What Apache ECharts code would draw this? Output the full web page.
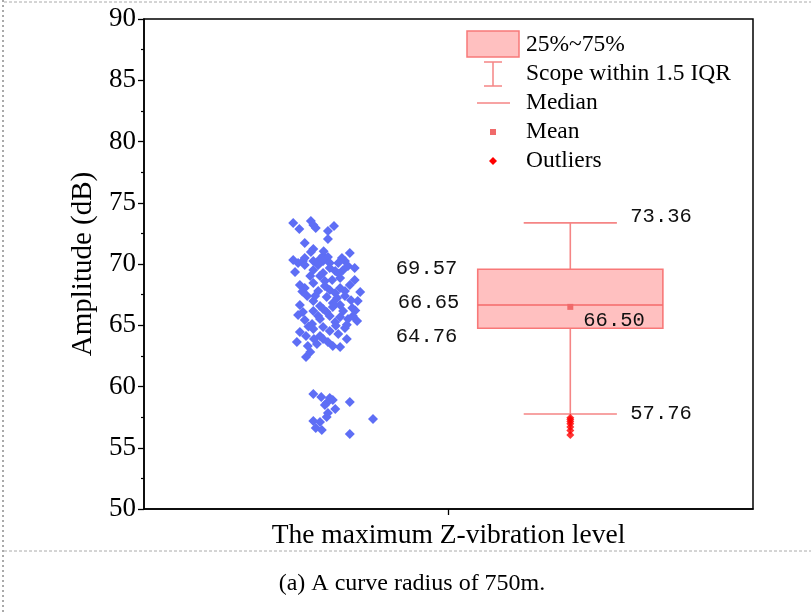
<!DOCTYPE html>
<html><head><meta charset="utf-8">
<script src="https://cdn.jsdelivr.net/npm/echarts@6/dist/echarts.min.js"></script>
<style>html,body{margin:0;padding:0;background:#fff}#c{width:811px;height:612px}</style>
</head><body><div id="c"></div>
<script>
// ---- data ----
const yMin = 50, yMax = 90, yStep = 5;
const xName = 'The maximum Z-vibration level';
const yName = 'Amplitude (dB)';
const caption = '(a) A curve radius of 750m.';
// box statistics: lower whisker, Q1, median, Q3, upper whisker
const boxStats = [57.76, 64.76, 66.65, 69.57, 73.36];
const boxMean = 66.50;
const boxPos = 7.0;
const outliers = [57.45, 57.3, 57.15, 56.95, 56.7, 56.4, 56.05];
const legendNames = ['25%~75%', 'Scope within 1.5 IQR', 'Median', 'Mean', 'Outliers'];
// raw samples (jitter position, amplitude dB)
const scatterPoints = [
 [2.45,73.35],[2.55,72.86],[2.74,73.51],[2.78,73.18],[2.82,72.94],[3.02,72.69],[3.12,73.10],[3.02,72.04],
 [2.64,71.71],[2.78,71.22],[2.74,70.98],[2.94,70.65],[2.89,70.41],[3.02,70.57],[3.25,70.49],[3.38,70.90],
 [2.45,70.33],[2.64,70.49],[2.53,70.08],[2.61,70.24],[2.78,70.24],[2.94,70.24],[3.05,70.08],[3.19,70.08],
 [3.30,70.24],[3.46,69.67],[3.27,69.51],[3.14,69.43],[2.94,69.27],[2.78,69.51],[2.64,69.92],[2.89,69.02],
 [3.09,68.69],[3.38,68.29],[2.78,68.45],[2.97,68.20],[3.22,68.04],[2.86,67.80],[3.14,67.63],[2.68,67.39],
 [3.00,67.31],[3.30,67.39],[3.51,66.98],[2.78,66.98],[3.10,66.82],[2.89,66.57],[3.22,66.65],[2.61,66.08],
 [2.78,66.16],[2.94,66.33],[3.10,66.49],[3.27,66.16],[3.43,65.76],[3.50,65.35],[3.35,65.51],[3.22,65.67],
 [3.05,65.76],[2.89,65.51],[2.76,65.10],[2.78,64.69],[2.94,64.86],[3.05,64.53],[3.19,64.29],[2.56,64.45],
 [2.51,63.63],[2.69,63.31],[2.84,63.47],[2.94,63.88],[3.10,63.31],[3.33,63.88],[2.89,64.12],[2.66,62.41],
 [2.86,69.92],[3.05,69.67],[3.35,69.84],[2.73,69.02],[3.22,68.86],[2.97,68.61],[2.64,68.04],[3.30,67.80],
 [3.05,67.88],[2.81,67.39],[3.17,67.22],[2.56,66.65],[3.00,66.08],[2.86,65.76],[3.14,65.27],[2.64,65.43],
 [3.30,64.78],[2.66,64.12],[3.02,63.63],[3.22,63.22],[2.79,63.88],[2.53,65.84],[3.42,66.41],[2.48,69.35],
 [3.46,68.69],[2.56,68.29],[3.55,67.71],[2.73,62.82],[3.40,67.05],[3.47,66.20],[3.15,64.95],[2.70,64.90],
 [3.20,69.20],[2.95,71.05],[3.33,65.05],[2.60,67.75],
 [2.78,59.39],[2.91,59.14],[3.05,59.06],[3.10,58.90],[3.00,58.65],[2.97,58.49],[3.14,58.16],[3.02,57.84],
 [3.00,57.51],[3.38,58.73],[2.78,57.18],[2.89,57.10],[2.82,56.61],[2.92,56.45],[3.76,57.35],[3.38,56.12]
];

// ---- styles ----
const serif = '"Liberation Serif", "Times New Roman", serif';
const mono = '"Liberation Mono", monospace';
const boxFill = '#ffc0c0', boxLine = '#f87878', whiskerColor = '#f58585';
const fmt = v => v.toFixed(2);

const chart = echarts.init(document.getElementById('c'), null, {renderer: 'canvas'});

function txt(text, x, y, align) {
  return {type: 'text', style: {text, x, y, fill: '#111', font: '20.5px ' + mono,
    align, verticalAlign: 'middle', textAlign: align, textVerticalAlign: 'middle'}};
}

function renderBox(params, api) {
  const x = api.value(0);
  const c = i => api.coord([x, api.value(i)]);
  const pLow = c(1), pQ1 = c(2), pMed = c(3), pQ3 = c(4), pHigh = c(5), pMean = c(6);
  const boxHalf = api.size([1.52, 0])[0];
  const capHalf = api.size([0.765, 0])[0];
  const cx = pMed[0];
  const ls = {stroke: whiskerColor, lineWidth: 1.6};
  return {type: 'group', children: [
    {type: 'line', shape: {x1: cx, y1: pLow[1], x2: cx, y2: pQ1[1]}, style: ls},
    {type: 'line', shape: {x1: cx, y1: pQ3[1], x2: cx, y2: pHigh[1]}, style: ls},
    {type: 'line', shape: {x1: cx - capHalf, y1: pLow[1], x2: cx + capHalf, y2: pLow[1]}, style: ls},
    {type: 'line', shape: {x1: cx - capHalf, y1: pHigh[1], x2: cx + capHalf, y2: pHigh[1]}, style: ls},
    {type: 'rect', shape: {x: cx - boxHalf, y: pQ3[1], width: boxHalf * 2, height: pQ1[1] - pQ3[1]},
      style: {fill: boxFill, stroke: boxLine, lineWidth: 1.6}},
    {type: 'line', shape: {x1: cx - boxHalf, y1: pMed[1], x2: cx + boxHalf, y2: pMed[1]},
      style: {stroke: '#f56a6a', lineWidth: 1.6}},
    {type: 'rect', shape: {x: cx - 3, y: pMean[1] - 3, width: 6, height: 6}, style: {fill: '#f06a6a'}},
    txt(fmt(api.value(5)), cx + 60, pHigh[1] - 6, 'left'),
    txt(fmt(api.value(1)), cx + 60, pLow[1], 'left'),
    txt(fmt(api.value(6)), cx + 13, pMean[1] + 14, 'left'),
    txt(fmt(api.value(4)), cx - 113, pQ3[1] - 1, 'right'),
    txt(fmt(api.value(3)), cx - 111, pMed[1] - 2, 'right'),
    txt(fmt(api.value(2)), cx - 113, pQ1[1] + 8, 'right')
  ]};
}

const legendFont = '23.5px ' + serif;
const legendGraphics = [
  {type: 'rect', shape: {x: 467, y: 31, width: 52, height: 26}, style: {fill: boxFill, stroke: boxLine, lineWidth: 1.5}},
  {type: 'line', shape: {x1: 493, y1: 62, x2: 493, y2: 86}, style: {stroke: whiskerColor, lineWidth: 1.5}},
  {type: 'line', shape: {x1: 484, y1: 62, x2: 502, y2: 62}, style: {stroke: whiskerColor, lineWidth: 1.5}},
  {type: 'line', shape: {x1: 484, y1: 86, x2: 502, y2: 86}, style: {stroke: whiskerColor, lineWidth: 1.5}},
  {type: 'line', shape: {x1: 477, y1: 103, x2: 510, y2: 103}, style: {stroke: whiskerColor, lineWidth: 1.5}},
  {type: 'rect', shape: {x: 490, y: 129, width: 6, height: 6}, style: {fill: '#f06a6a'}},
  {type: 'polygon', shape: {points: [[493, 157], [497, 161], [493, 165], [489, 161]]}, style: {fill: '#ff0000'}}
].concat(legendNames.map((n, i) => ({type: 'text', x: 526, y: 45 + i * 29,
  style: {text: n, font: legendFont, fill: '#000', verticalAlign: 'middle', textVerticalAlign: 'middle'}})));

const frameGraphics = [
  {type: 'line', shape: {x1: 4, y1: 2, x2: 811, y2: 2}, style: {stroke: '#aaa', lineWidth: 1, lineDash: [3, 2]}},
  {type: 'line', shape: {x1: 4, y1: 551, x2: 811, y2: 551}, style: {stroke: '#aaa', lineWidth: 1, lineDash: [3, 2]}},
  {type: 'line', shape: {x1: 3, y1: 0, x2: 3, y2: 612}, style: {stroke: '#555', lineWidth: 1, lineDash: [2, 3]}},
  {type: 'text', x: 412, y: 584, style: {text: caption, font: '24px ' + serif, fill: '#000',
    align: 'center', verticalAlign: 'middle', textAlign: 'center', textVerticalAlign: 'middle'}}
];

chart.setOption({
  animation: false,
  backgroundColor: '#fff',
  grid: {left: 144, right: 58, top: 19, bottom: 103, show: true, borderColor: '#000', borderWidth: 1.5, backgroundColor: 'transparent'},
  xAxis: {
    type: 'value', min: 0, max: 10, interval: 5,
    axisLine: {show: true, onZero: false, lineStyle: {color: '#000', width: 1.5}},
    axisTick: {show: true, length: 6, customValues: [5], lineStyle: {color: '#000', width: 1.3}},
    axisLabel: {show: false},
    splitLine: {show: false},
    name: xName, nameLocation: 'middle', nameGap: 13,
    nameTextStyle: {fontFamily: serif, fontSize: 27.5, color: '#000'}
  },
  yAxis: {
    type: 'value', min: yMin, max: yMax, interval: yStep,
    axisLine: {show: true, onZero: false, lineStyle: {color: '#000', width: 1.5}},
    axisTick: {show: true, length: 6, lineStyle: {color: '#000', width: 1.3}},
    minorTick: {show: true, splitNumber: 2, length: 3, lineStyle: {color: '#000', width: 1.2}},
    splitLine: {show: false},
    axisLabel: {fontFamily: serif, fontSize: 27, color: '#000', margin: 8},
    name: yName, nameLocation: 'middle', nameGap: 38,
    nameTextStyle: {fontFamily: serif, fontSize: 29, color: '#000'}
  },
  graphic: {elements: legendGraphics.concat(frameGraphics)},
  series: [
    {type: 'scatter', symbol: 'diamond', symbolSize: 10, itemStyle: {color: '#5e6ef5', opacity: 1},
      data: scatterPoints, z: 3},
    {type: 'custom', renderItem: renderBox, data: [[boxPos].concat(boxStats, [boxMean])], z: 2,
      encode: {x: 0, y: [1, 2, 3, 4, 5]}},
    {type: 'scatter', symbol: 'diamond', symbolSize: 8, itemStyle: {color: '#ff0000'},
      data: outliers.map(v => [boxPos, v]), z: 4}
  ]
});
</script></body></html>
